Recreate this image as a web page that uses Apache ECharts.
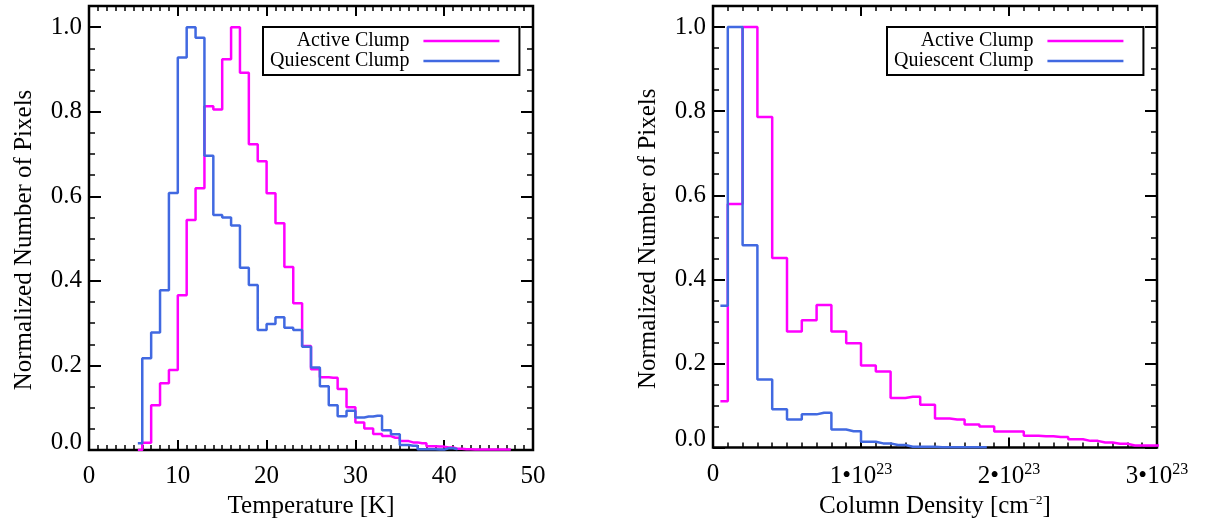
<!DOCTYPE html>
<html>
<head>
<meta charset="utf-8">
<script src="https://cdn.jsdelivr.net/npm/echarts@6/dist/echarts.min.js"></script>
<style>
html, body { margin: 0; padding: 0; background: #fff; }
#main { width: 1209px; height: 524px; }
</style>
</head>
<body>
<div id="main"></div>
<script>
// bin centres (K) and normalised counts, temperature panel
var tempBins = [5.5, 6.5, 7.5, 8.5, 9.5, 10.5, 11.5, 12.5, 13.5, 14.5, 15.5, 16.5, 17.5, 18.5, 19.5,
  20.5, 21.5, 22.5, 23.5, 24.5, 25.5, 26.5, 27.5, 28.5, 29.5, 30.5, 31.5, 32.5, 33.5, 34.5,
  35.5, 36.5, 37.5, 38.5, 39.5, 40.5, 41.5, 42.5, 43.5, 44.5, 45.5, 46.5, 47.5];
var tempActive = [0, 0.017, 0.106, 0.158, 0.189, 0.366, 0.544, 0.619, 0.813, 0.805, 0.924, 1.0, 0.892, 0.723, 0.683,
  0.607, 0.536, 0.433, 0.347, 0.246, 0.191, 0.172, 0.171, 0.144, 0.101, 0.065, 0.051, 0.038, 0.033, 0.029,
  0.021, 0.018, 0.016, 0.009, 0.008, 0.006, 0.003, 0.002, 0.001, 0.001, 0.001, 0.001, 0.001];
var tempQuiescent = [0.016, 0.217, 0.278, 0.378, 0.608, 0.928, 1.0, 0.975, 0.696, 0.556, 0.550, 0.531, 0.431, 0.390, 0.284,
  0.298, 0.314, 0.289, 0.284, 0.244, 0.195, 0.151, 0.106, 0.080, 0.093, 0.077, 0.079, 0.081, 0.047, 0.037,
  0.012, 0.010, 0.002, 0.002, 0.001, 0.004, 0.002];

// bin centres (cm^-2) and normalised counts, column density panel
var colBins = [0.5e22, 1.5e22, 2.5e22, 3.5e22, 4.5e22, 5.5e22, 6.5e22, 7.5e22, 8.5e22, 9.5e22,
  10.5e22, 11.5e22, 12.5e22, 13.5e22, 14.5e22, 15.5e22, 16.5e22, 17.5e22, 18.5e22, 19.5e22,
  20.5e22, 21.5e22, 22.5e22, 23.5e22, 24.5e22, 25.5e22, 26.5e22, 27.5e22, 28.5e22, 29.5e22, 30.5e22];
var colActive = [0.110, 0.579, 1.0, 0.786, 0.451, 0.276, 0.303, 0.339, 0.276, 0.248,
  0.195, 0.181, 0.118, 0.121, 0.102, 0.069, 0.067, 0.055, 0.050, 0.038,
  0.038, 0.028, 0.027, 0.025, 0.020, 0.016, 0.012, 0.009, 0.005, 0.005, 0.004];
var colQuiescent = [0.337, 1.0, 0.481, 0.162, 0.091, 0.067, 0.079, 0.083, 0.043, 0.039,
  0.014, 0.010, 0.006, 0.002, 0.002, 0.001, 0.001, 0.001, 0.001];

var seriesNames = ['Active Clump', 'Quiescent Clump'];
var yMajor = [0, 0.2, 0.4, 0.6, 0.8, 1.0];
var yMinor = [0.05, 0.1, 0.15, 0.25, 0.3, 0.35, 0.45, 0.5, 0.55, 0.65, 0.7, 0.75, 0.85, 0.9, 0.95, 1.05];

var FONT = 'Liberation Serif';
var MAGENTA = '#ff00ff';
var BLUE = '#4169e1';

function pairs(xs, ys) {
  var out = [];
  for (var i = 0; i < ys.length; i++) out.push([xs[i], ys[i]]);
  return out;
}

function xAxes(grid, min, max, interval, name, fmt, onTop) {
  return {
    gridIndex: grid, type: 'value', min: min, max: max, interval: interval,
    position: onTop ? 'top' : 'bottom',
    name: onTop ? '' : name, nameLocation: 'middle', nameGap: 40,
    nameTextStyle: { fontFamily: FONT, fontSize: 25, color: '#000',
      rich: { sup: { fontFamily: FONT, fontSize: 13, color: '#000', padding: [0, 0, 12, 0] } } },
    axisLine: { show: false, onZero: false },
    axisTick: { show: true, inside: true, length: 10, lineStyle: { color: '#000', width: 2 } },
    minorTick: { show: true, splitNumber: 10, length: 5, lineStyle: { color: '#000', width: 1.5 } },
    splitLine: { show: false },
    axisLabel: { show: !onTop, margin: 14, fontFamily: FONT, fontSize: 25, color: '#000', formatter: fmt,
      rich: { sup: { fontFamily: FONT, fontSize: 16, color: '#000', padding: [0, 0, 14, 0] } } }
  };
}

function yAxes(grid, side, major, showLabel) {
  var ticks = major ? yMajor : yMinor;
  return {
    gridIndex: grid, type: 'value', min: 0, max: 1.05, position: side,
    name: showLabel ? 'Normalized Number of Pixels' : '', nameLocation: 'middle', nameGap: 52,
    nameTextStyle: { fontFamily: FONT, fontSize: 25, color: '#000', padding: [0, 24, 0, 0] },
    axisLine: { show: false, onZero: false },
    axisTick: { show: true, inside: true, length: major ? 12 : 6, customValues: ticks,
      lineStyle: { color: '#000', width: major ? 2 : 1.5 } },
    splitLine: { show: false },
    axisLabel: { show: showLabel, customValues: yMajor, margin: 7, fontFamily: FONT, fontSize: 25, color: '#000',
      formatter: function (v) { return v === 0 ? '{z|0.0}' : v.toFixed(1); },
      rich: { z: { fontFamily: FONT, fontSize: 25, color: '#000', padding: [0, 0, 16, 0] } } }
  };
}

function colFmt(v) {
  if (v === 0) return '0';
  return Math.round(v / 1e23) + '•10{sup|23}';
}

function legend(left) {
  return {
    left: left, top: 27, orient: 'vertical', align: 'right',
    data: seriesNames, selectedMode: false,
    icon: 'rect', itemWidth: 76, itemHeight: 2.5, itemGap: 0,
    borderColor: '#000', borderWidth: 2, padding: [4, 20, 4, 7],
    textStyle: { fontFamily: FONT, fontSize: 20, color: '#000', padding: [0, 9, 0, 0] }
  };
}

function hist(name, x, y, data, color) {
  return {
    name: name, type: 'line', step: 'middle', xAxisIndex: x, yAxisIndex: y,
    symbol: 'none', showSymbol: false, clip: true,
    lineStyle: { color: color, width: 2.5 }, itemStyle: { color: color },
    data: data
  };
}

var myChart = echarts.init(document.getElementById('main'));
var option = {
  animation: false,
  backgroundColor: '#fff',
  grid: [
    { left: 89, top: 6, width: 444, height: 444, show: true, borderColor: '#000', borderWidth: 2.5, backgroundColor: 'transparent' },
    { left: 713, top: 6, width: 444, height: 444, show: true, borderColor: '#000', borderWidth: 2.5, backgroundColor: 'transparent' }
  ],
  legend: [legend(263), legend(887)],
  xAxis: [
    xAxes(0, 0, 50, 10, 'Temperature [K]', null, false),
    xAxes(0, 0, 50, 10, '', null, true),
    xAxes(1, 0, 3e23, 1e23, 'Column Density [cm{sup|−2}]', colFmt, false),
    xAxes(1, 0, 3e23, 1e23, '', colFmt, true)
  ],
  yAxis: [
    yAxes(0, 'left', true, true),
    yAxes(0, 'left', false, false),
    yAxes(0, 'right', true, false),
    yAxes(0, 'right', false, false),
    yAxes(1, 'left', true, true),
    yAxes(1, 'left', false, false),
    yAxes(1, 'right', true, false),
    yAxes(1, 'right', false, false)
  ],
  series: [
    hist(seriesNames[0], 0, 0, pairs(tempBins, tempActive), MAGENTA),
    hist(seriesNames[1], 0, 0, pairs(tempBins, tempQuiescent), BLUE),
    hist(seriesNames[0], 2, 4, pairs(colBins, colActive), MAGENTA),
    hist(seriesNames[1], 2, 4, pairs(colBins, colQuiescent), BLUE)
  ]
};
myChart.setOption(option);
window.addEventListener('resize', function () { myChart.resize(); });
</script>
</body>
</html>
